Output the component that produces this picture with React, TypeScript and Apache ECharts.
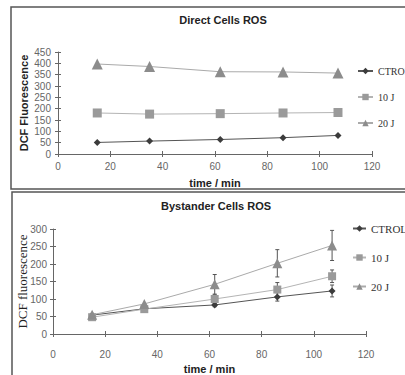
import React, { useEffect, useRef } from "react";
import * as echarts from "echarts";

const times = [15, 35, 62, 86, 107];
const seriesNames = ["CTROL", "10 J", "20 J"];
const directCtrl = [51, 57, 64, 72, 82];
const direct10 = [181, 176, 178, 181, 183];
const direct20 = [397, 386, 363, 362, 357];
const bysCtrl = [54, 72, 83, 106, 123];
const bys10 = [48, 71, 100, 127, 165];
const bys20 = [55, 86, 142, 202, 253];
const bysCtrlErr = [0, 0, 5, 12, 17];
const bys10Err = [0, 0, 12, 20, 18];
const bys20Err = [0, 0, 28, 39, 43];
const directYMax = 450;
const bysYMax = 300;
const xMax = 120;

const markerColors = ["#3c3c3c", "#9a9a9a", "#8c8c8c"];
const lineColors = ["#555555", "#b4b4b4", "#aaaaaa"];
const symbols = ["diamond", "rect", "triangle"];

export default function App() {
  const ref = useRef<HTMLDivElement>(null);
  useEffect(() => {
    if (!ref.current) return;
    const chart = echarts.init(ref.current, null, { renderer: "svg" });
    const sans = "'Liberation Sans', Arial, sans-serif";
    const serif = "'Liberation Serif', 'Times New Roman', serif";

    const mkX = (grid: number, main: boolean) => ({
      type: "value",
      gridIndex: grid,
      min: 0,
      max: xMax,
      interval: 20,
      position: "bottom",
      name: main ? "time / min" : "",
      nameLocation: "middle",
      nameMoveOverlap: false,
      nameGap: grid === 0 ? 23 : 29,
      nameTextStyle: { fontFamily: sans, fontWeight: "bold", fontSize: 11, color: "#222" },
      axisLine: { show: main, onZero: false, lineStyle: { color: "#666", width: 1 } },
      axisTick: { show: true, inside: !main, length: 3, lineStyle: { color: "#666" } },
      axisLabel: {
        show: main,
        margin: grid === 0 ? 7 : 15,
        fontFamily: sans,
        fontSize: 10,
        color: "#666",
      },
      splitLine: { show: false },
    });
    const mkY = (grid: number, main: boolean) => ({
      type: "value",
      gridIndex: grid,
      min: 0,
      max: grid === 0 ? directYMax : bysYMax,
      interval: 50,
      position: "left",
      name: main ? (grid === 0 ? "DCF Fluorescence" : "DCF fluorescence") : "",
      nameLocation: "middle",
      nameMoveOverlap: false,
      nameGap: grid === 0 ? 29 : 24,
      nameTextStyle:
        grid === 0
          ? { fontFamily: sans, fontWeight: "bold", fontSize: 11, color: "#222" }
          : { fontFamily: serif, fontSize: 13, color: "#222" },
      axisLine: { show: main, onZero: false, lineStyle: { color: "#666", width: 1 } },
      axisTick: { show: true, inside: !main, length: 3, lineStyle: { color: "#666" } },
      axisLabel: {
        show: main,
        margin: grid === 0 ? 7 : 6,
        fontFamily: sans,
        fontSize: 10,
        color: "#666",
      },
      splitLine: { show: false },
    });

    const direct = [directCtrl, direct10, direct20];
    const bys = [bysCtrl, bys10, bys20];
    const bysErr = [bysCtrlErr, bys10Err, bys20Err];
    const directSizes = [7, 9, 11];
    const bysSizes = [7, 8, 10];

    const series: any[] = [];
    direct.forEach((vals, i) => {
      series.push({
        type: "line",
        name: seriesNames[i],
        xAxisIndex: 0,
        yAxisIndex: 0,
        data: times.map((t, k) => [t, vals[k]]),
        symbol: symbols[i],
        symbolSize: directSizes[i],
        itemStyle: { color: markerColors[i] },
        lineStyle: { color: lineColors[i], width: 1 },
        z: 3,
      });
    });
    bys.forEach((vals, i) => {
      series.push({
        type: "line",
        name: seriesNames[i],
        xAxisIndex: 1,
        yAxisIndex: 1,
        data: times.map((t, k) => [t, vals[k]]),
        symbol: symbols[i],
        symbolSize: bysSizes[i],
        itemStyle: { color: markerColors[i] },
        lineStyle: { color: lineColors[i], width: 1 },
        z: 3,
      });
      series.push({
        type: "custom",
        name: seriesNames[i] + " err",
        xAxisIndex: 1,
        yAxisIndex: 1,
        data: times.map((t, k) => [t, vals[k], bysErr[i][k]]),
        encode: { x: 0, y: 1 },
        z: 2,
        renderItem: (params: any, api: any) => {
          const x = api.value(0);
          const y = api.value(1);
          const e = api.value(2);
          if (!e) return null;
          const top = api.coord([x, y + e]);
          const bot = api.coord([x, y - e]);
          const c = "#555";
          const w = 2;
          return {
            type: "group",
            children: [
              { type: "line", shape: { x1: top[0], y1: top[1], x2: bot[0], y2: bot[1] }, style: { stroke: c, lineWidth: 1 } },
              { type: "line", shape: { x1: top[0] - w, y1: top[1], x2: top[0] + w, y2: top[1] }, style: { stroke: c, lineWidth: 1 } },
              { type: "line", shape: { x1: bot[0] - w, y1: bot[1], x2: bot[0] + w, y2: bot[1] }, style: { stroke: c, lineWidth: 1 } },
            ],
          };
        },
      });
    });

    const legendCommon = {
      orient: "vertical",
      data: seriesNames,
      itemHeight: 8,
      selectedMode: false,
    };

    chart.setOption({
      animation: false,
      backgroundColor: "#ffffff",
      title: [
        {
          text: "Direct Cells ROS",
          left: 218,
          top: 9,
          textAlign: "center",
          textStyle: { fontFamily: sans, fontWeight: "bold", fontSize: 11, color: "#222" },
        },
        {
          text: "Bystander Cells ROS",
          left: 211,
          top: 195,
          textAlign: "center",
          textStyle: { fontFamily: sans, fontWeight: "bold", fontSize: 11, color: "#222" },
        },
      ],
      legend: [
        {
          ...legendCommon,
          left: 352,
          top: 61,
          itemWidth: 15,
          itemGap: 16,
          textStyle: { fontFamily: serif, fontSize: 10, color: "#333", lineHeight: 10 },
        },
        {
          ...legendCommon,
          left: 347,
          top: 218,
          itemWidth: 13,
          itemGap: 18,
          textStyle: { fontFamily: serif, fontSize: 11, color: "#333", lineHeight: 10 },
        },
      ],
      grid: [
        { left: 58, top: 52, width: 314, height: 102 },
        { left: 53, top: 229, width: 313, height: 115 },
      ],
      xAxis: [mkX(0, true), mkX(1, true), mkX(0, false), mkX(1, false)],
      yAxis: [mkY(0, true), mkY(1, true), mkY(0, false), mkY(1, false)],
      graphic: [
        {
          type: "rect",
          shape: { x: 11, y: 7, width: 420, height: 182 },
          style: { fill: "none", stroke: "#555", lineWidth: 1.5 },
          silent: true,
        },
        {
          type: "rect",
          shape: { x: 12, y: 192, width: 420, height: 220 },
          style: { fill: "none", stroke: "#555", lineWidth: 1.5 },
          silent: true,
        },
      ],
      series,
    });
    return () => chart.dispose();
  }, []);
  return (
    <div
      ref={ref}
      style={{ position: "fixed", left: 0, top: 0, width: 405, height: 375 }}
    />
  );
}
